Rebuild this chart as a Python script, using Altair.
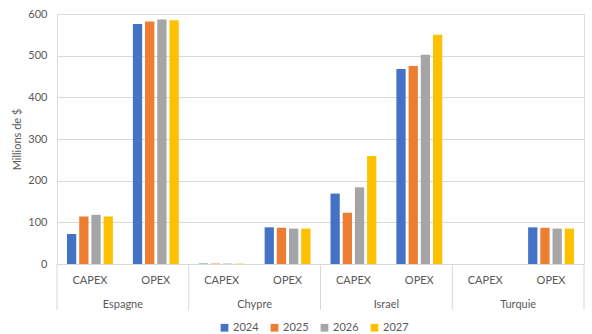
import altair as alt
import pandas as pd

countries = ["Espagne", "Chypre", "Israel", "Turquie"]
types = ["CAPEX", "OPEX"]
years = ["2024", "2025", "2026", "2027"]

espagne_capex = [72, 114, 118, 114]
espagne_opex = [576, 582, 587, 585]
chypre_capex = [1, 1, 1, 1]
chypre_opex = [88, 87, 85, 85]
israel_capex = [169, 123, 184, 259]
israel_opex = [468, 475, 502, 550]
turquie_capex = [0, 0, 0, 0]
turquie_opex = [88, 87, 85, 85]

colors = ["#4472C4", "#ED7D31", "#A5A5A5", "#FFC000"]

series = {
    ("Espagne", "CAPEX"): espagne_capex,
    ("Espagne", "OPEX"): espagne_opex,
    ("Chypre", "CAPEX"): chypre_capex,
    ("Chypre", "OPEX"): chypre_opex,
    ("Israel", "CAPEX"): israel_capex,
    ("Israel", "OPEX"): israel_opex,
    ("Turquie", "CAPEX"): turquie_capex,
    ("Turquie", "OPEX"): turquie_opex,
}

keys = [f"{c}|{t}" for c in countries for t in types]
rows = []
for c in countries:
    for t in types:
        for y, v in zip(years, series[(c, t)]):
            rows.append({"key": f"{c}|{t}", "country": c, "type": t, "year": y, "value": v})
df = pd.DataFrame(rows)
groups = pd.DataFrame([{"key": f"{c}|CAPEX", "country": c} for c in countries])
last = pd.DataFrame([{"key": keys[-1]}])

FONT = "Lato"
GREY = "#595959"
W, H = 527, 250

xscale = alt.Scale(domain=keys, paddingInner=0, paddingOuter=0)

bars = alt.Chart(df).mark_bar().encode(
    x=alt.X("key:N", sort=keys, scale=xscale,
            axis=alt.Axis(title=None, labelExpr="split(datum.label, '|')[1]",
                          labelAngle=0, ticks=False, domain=True, domainColor="#d9d9d9",
                          labelPadding=10, labelFontSize=11, labelColor=GREY, labelFont=FONT)),
    xOffset=alt.XOffset("year:N", sort=years,
                        scale=alt.Scale(paddingInner=0.24, paddingOuter=0.82)),
    y=alt.Y("value:Q", scale=alt.Scale(domain=[0, 600], nice=False),
            axis=alt.Axis(title="Millions de $", values=[0, 100, 200, 300, 400, 500, 600],
                          grid=True, gridColor="#d9d9d9", domain=False, ticks=False,
                          labelPadding=10, labelFontSize=11, labelColor=GREY, labelFont=FONT,
                          titleFont=FONT, titleFontSize=11, titleColor=GREY,
                          titleFontWeight="normal", titlePadding=5)),
    color=alt.Color("year:N", sort=years, scale=alt.Scale(domain=years, range=colors),
                    legend=alt.Legend(title=None, orient="none", direction="horizontal",
                                      legendX=162, legendY=308, symbolType="square",
                                      symbolSize=60, symbolStrokeWidth=0,
                                      labelFont=FONT, labelFontSize=11, labelColor=GREY,
                                      columnPadding=10, symbolOffset=0, labelOffset=3)),
)

dividers = alt.Chart(groups).mark_rule(color="#d9d9d9", strokeWidth=1).encode(
    x=alt.X("key:N", sort=keys, scale=xscale, bandPosition=0),
    y=alt.value(H),
    y2=alt.value(H + 46),
)
right_edge = alt.Chart(last).mark_rule(color="#d9d9d9", strokeWidth=1).encode(
    x=alt.X("key:N", sort=keys, scale=xscale, bandPosition=1),
    y=alt.value(H),
    y2=alt.value(H + 46),
)
country_labels = alt.Chart(groups).mark_text(
    font=FONT, fontSize=11, color=GREY, baseline="middle", align="center"
).encode(
    x=alt.X("key:N", sort=keys, scale=xscale, bandPosition=1),
    y=alt.value(H + 41),
    text="country:N",
)

chart = alt.layer(bars, dividers, right_edge, country_labels).properties(
    width=W, height=H,
    autosize=alt.AutoSizeParams(type="none"),
    padding={"left": 57, "top": 14, "right": 8, "bottom": 70},
).configure_view(stroke=None).configure(background="white")

chart.save("out.html", embed_options={"renderer": "svg", "actions": False})
